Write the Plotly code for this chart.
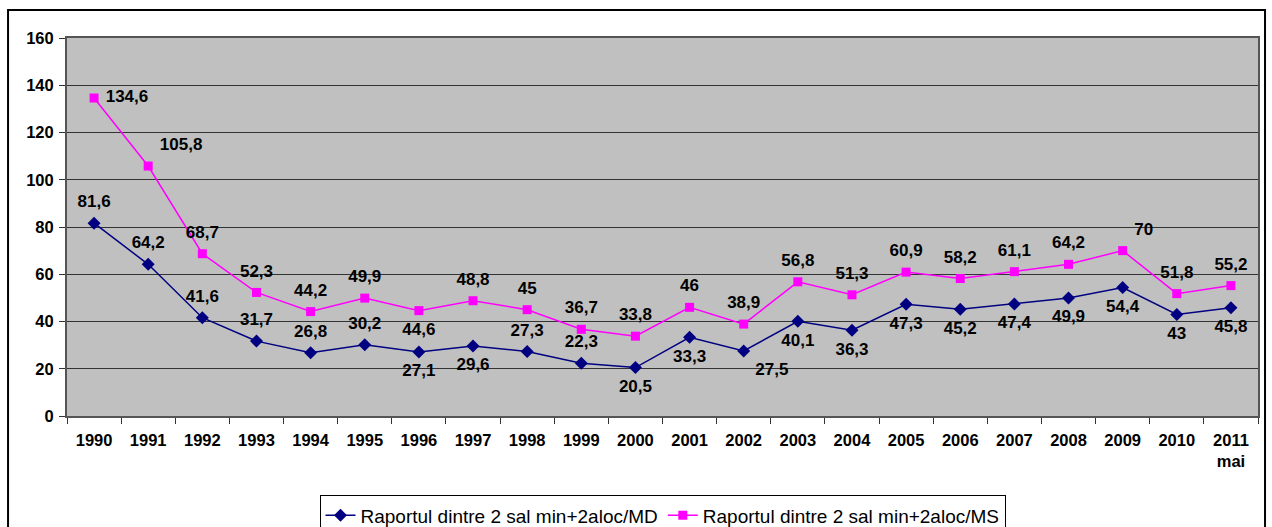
import plotly.graph_objects as go

years = ["1990", "1991", "1992", "1993", "1994", "1995", "1996", "1997", "1998", "1999", "2000",
         "2001", "2002", "2003", "2004", "2005", "2006", "2007", "2008", "2009", "2010", "2011<br>mai"]
md = [81.6, 64.2, 41.6, 31.7, 26.8, 30.2, 27.1, 29.6, 27.3, 22.3, 20.5,
      33.3, 27.5, 40.1, 36.3, 47.3, 45.2, 47.4, 49.9, 54.4, 43, 45.8]
ms = [134.6, 105.8, 68.7, 52.3, 44.2, 49.9, 44.6, 48.8, 45, 36.7, 33.8,
      46, 38.9, 56.8, 51.3, 60.9, 58.2, 61.1, 64.2, 70, 51.8, 55.2]

md_pos = ["top center", "top center", "top center", "top center", "top center", "top center",
          "bottom center", "bottom center", "top center", "top center", "bottom center",
          "bottom center", "bottom right", "bottom center", "bottom center", "bottom center",
          "bottom center", "bottom center", "bottom center", "bottom center", "bottom center",
          "bottom center"]
ms_pos = ["middle right", "top right", "top center", "top center", "top center", "top center",
          "bottom center", "top center", "top center", "top center", "top center",
          "top center", "top center", "top center", "top center", "top center",
          "top center", "top center", "top center", "top right", "top center", "top center"]

def fmt(v):
    return f"{v:g}".replace(".", ",")

FONT = "Liberation Sans, Arial, sans-serif"
label_font = dict(family=FONT, size=17, color="black", weight="bold")

fig = go.Figure()
fig.add_trace(go.Scatter(
    x=years, y=md, mode="lines+markers", name="Raportul dintre 2 sal min+2aloc/MD",
    line=dict(color="#000080", width=1.5),
    marker=dict(symbol="diamond", size=10, color="#000080")))
fig.add_trace(go.Scatter(
    x=years, y=ms, mode="lines+markers", name="Raportul dintre 2 sal min+2aloc/MS",
    line=dict(color="#FF00FF", width=1.5),
    marker=dict(symbol="square", size=9, color="#FF00FF")))
# data labels (invisible larger markers give Excel-like spacing from the points)
for vals, pos in ((md, md_pos), (ms, ms_pos)):
    fig.add_trace(go.Scatter(
        x=years, y=vals, mode="markers+text", showlegend=False, hoverinfo="skip",
        marker=dict(size=17, opacity=0),
        text=[fmt(v) for v in vals], textposition=pos, textfont=label_font,
        cliponaxis=False))

fig.update_layout(
    width=1272, height=527,
    margin=dict(l=67, r=14, t=38, b=111, autoexpand=False),
    paper_bgcolor="white", plot_bgcolor="#C0C0C0",
    font=dict(family=FONT, color="black"),
    showlegend=True,
    legend=dict(orientation="h", x=0.5, xanchor="center", y=-0.21, yanchor="top",
                bordercolor="black", borderwidth=1, bgcolor="white",
                font=dict(size=19, family=FONT),
                itemwidth=30, tracegroupgap=0),
    shapes=[dict(type="rect", xref="paper", yref="paper",
                 x0=-0.0495, x1=1.0059, y0=-0.4, y1=1.074,
                 line=dict(color="black", width=2), layer="below")],
)
fig.update_xaxes(
    type="category", tickson="boundaries", ticks="outside", ticklen=6, tickcolor="#333",
    showline=True, linecolor="#555", linewidth=2, mirror=True, showgrid=False,
    tickfont=dict(size=16.5, weight="bold"), ticklabelstandoff=8, range=[-0.5, 21.5])
fig.update_yaxes(
    range=[0, 160], dtick=20, ticks="outside", ticklen=6, tickcolor="#333",
    showline=True, linecolor="#555", linewidth=2, mirror=True,
    showgrid=True, gridcolor="#333", gridwidth=1, zeroline=False,
    tickfont=dict(size=16.5, weight="bold"), ticklabelstandoff=2)

fig.write_html("out.html", config={"displayModeBar": False},
               post_script="document.body.style.margin='0';document.body.style.overflow='hidden';")
